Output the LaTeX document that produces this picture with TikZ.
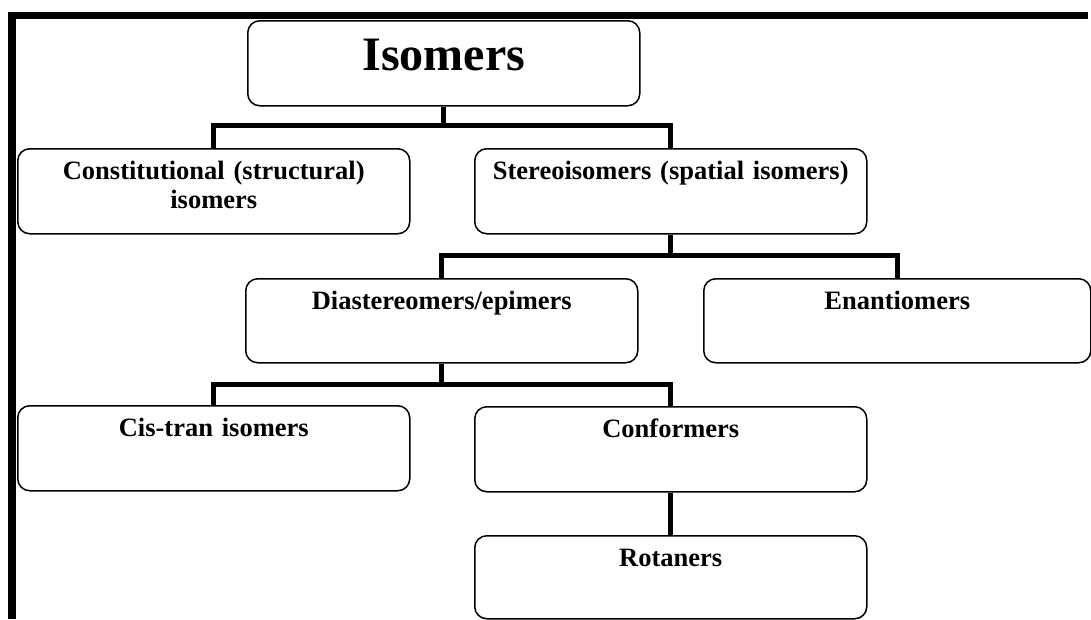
\documentclass[tikz,border=0pt]{standalone}
\usepackage{fontspec}
\setmainfont{Liberation Serif}
\tikzset{
    box/.style      = { rectangle, draw, line width=1.5pt, rounded corners=12pt,
	text width=392pt, align=center, inner sep=0pt, anchor=north west,
	text height=31pt, text depth=54pt,
	font=\bfseries\fontsize{26.5}{29}\selectfont },
	link/.style     = { draw, line width=5pt },
	frame/.style    = { draw, line width=7.5pt },
}

\begin{document}
\begin{tikzpicture}[x=1pt,y=-1pt]
				\useasboundingbox (0,0) rectangle (1091,619);
				\draw[frame] (12,619) -- (12,15.5) -- (1088,15.5);
				\node (iso) [box, text height=50pt, text depth=35pt, font=\bfseries\fontsize{48}{52}\selectfont] at (247,20) {Isomers};
				\node (cons) [box] at (17,148) {Constitutional (structural)\\ isomers};
				\node (stereo) [box] at (474,148) {Stereoisomers (spatial isomers)};
				\node (dia) [box, text depth=53pt] at (245,278) {Diastereomers/epimers};
				\node (enan) [box, text width=387pt, text depth=53pt] at (703,278) {Enantiomers};
				\node (cis) [box] at (17,405) {Cis-tran isomers};
				\node (conf) [box] at (474,406) {Conformers};
				\node (rot) [box, text depth=52pt] at (474,535) {Rotaners};
				\draw[link] (iso.south) -- ++(0,20);
				\draw[link] (cons.north) -- ++(0,-23) -| (stereo.north);
				\draw[link] (stereo.south) -- ++(0,21);
				\draw[link] (dia.north) -- ++(0,-23) -| (enan.north);
				\draw[link] (dia.south) -- ++(0,22);
				\draw[link] (cis.north) -- ++(0,-21) -| (conf.north);
				\draw[link] (conf) -- (rot);
\end{tikzpicture}
\end{document}
